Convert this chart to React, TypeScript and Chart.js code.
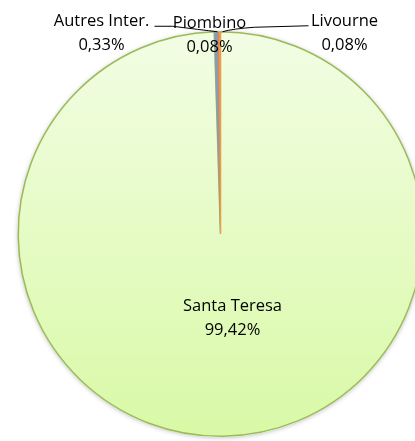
import React, { useEffect, useRef } from "react";
import { Chart, registerables } from "chart.js";

Chart.register(...registerables);

const categories = ["Santa Teresa", "Autres Inter.", "Piombino", "Livourne"];
const shares = [99.42, 0.33, 0.08, 0.08];
const shareLabels = ["99,42%", "0,33%", "0,08%", "0,08%"];
const sliceColors = ["#e6fbc8", "#8a9bb5", "#f79646", "#f9b27a"];

const FONT = "16.5px 'Open Sans', sans-serif";

const labelPlugin = {
  id: "pieLabels",
  beforeDatasetsDraw(chart: any) {
    const ctx = chart.ctx;
    const arc = chart.getDatasetMeta(0).data[0];
    if (!arc) return;
    ctx.save();
    ctx.beginPath();
    ctx.arc(arc.x, arc.y + 1, arc.outerRadius, 0, Math.PI * 2);
    ctx.shadowColor = "rgba(0,0,0,0.3)";
    ctx.shadowBlur = 5;
    ctx.fillStyle = "#ffffff";
    ctx.fill();
    ctx.restore();
  },
  afterDatasetsDraw(chart: any) {
    const ctx = chart.ctx;
    const arc = chart.getDatasetMeta(0).data[0];
    if (!arc) return;
    const cx = arc.x;
    const cy = arc.y;
    const r = arc.outerRadius;
    const top = cy - r;
    ctx.save();
    ctx.strokeStyle = "#000000";
    ctx.lineWidth = 1;
    ctx.beginPath();
    ctx.moveTo(cx - 66, top - 5.5);
    ctx.lineTo(cx - 48, top - 5.5);
    ctx.quadraticCurveTo(cx - 20, top - 2, cx - 3, top);
    ctx.stroke();
    ctx.beginPath();
    ctx.moveTo(cx + 88, top - 6);
    ctx.lineTo(cx + 34, top - 4.5);
    ctx.quadraticCurveTo(cx + 12, top - 3, cx + 2, top);
    ctx.stroke();

    ctx.fillStyle = "#000000";
    ctx.font = FONT;
    ctx.textAlign = "center";
    ctx.textBaseline = "middle";
    const pos = [
      [cx + 12, cy + 72],
      [cx - 119, top - 10],
      [cx - 11, top - 8],
      [cx + 124, top - 10],
    ];
    categories.forEach((c, i) => {
      const [x, y] = pos[i];
      ctx.fillText(c, x, y);
      ctx.fillText(shareLabels[i], x, y + 24);
    });
    ctx.restore();
  },
};

export default function App() {
  const ref = useRef<HTMLCanvasElement>(null);
  useEffect(() => {
    document.body.style.margin = "0";
    document.body.style.overflow = "hidden";
    const canvas = ref.current!;
    const chart = new Chart(canvas, {
      type: "pie",
      data: {
        labels: categories,
        datasets: [
          {
            data: shares,
            backgroundColor: (c: any) => {
              const i = c.dataIndex;
              if (i === 0) {
                const a = c.chart.chartArea;
                if (!a) return sliceColors[0];
                const g = c.chart.ctx.createLinearGradient(0, a.top, 0, a.bottom);
                g.addColorStop(0, "#f2fde4");
                g.addColorStop(1, "#d9f9a6");
                return g;
              }
              return sliceColors[i];
            },
            borderColor: ["#9bbb59", "#8a9bb5", "#e8823a", "#f79646"],
            borderWidth: [1.5, 0.5, 1, 1],
          },
        ],
      },
      options: {
        responsive: false,
        animation: false,
        layout: { padding: { top: 31, bottom: 4, left: 17, right: 0 } },
        plugins: {
          legend: { display: false },
          tooltip: { enabled: false },
        },
      },
      plugins: [labelPlugin],
    });
    return () => chart.destroy();
  }, []);
  return (
    <div style={{ width: 415, height: 441, overflow: "hidden", background: "#ffffff" }}>
      <canvas ref={ref} width={424} height={441} style={{ display: "block" }} />
    </div>
  );
}
